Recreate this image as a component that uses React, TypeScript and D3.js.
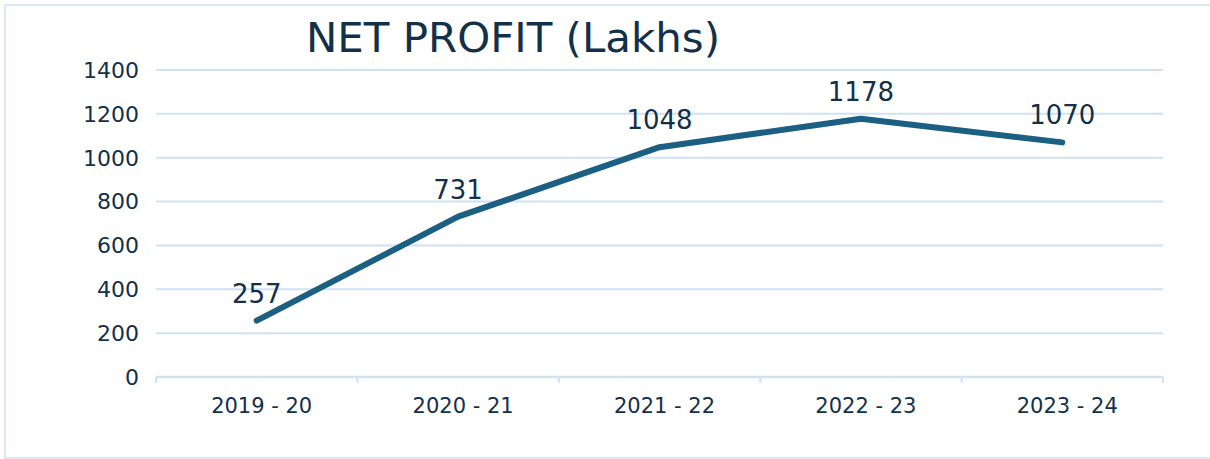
import React from "react";
import * as d3 from "d3";

const categories = ["2019 - 20", "2020 - 21", "2021 - 22", "2022 - 23", "2023 - 24"];
const values = [257, 731, 1048, 1178, 1070];
const yTicks = [0, 200, 400, 600, 800, 1000, 1200, 1400];
const title = "NET PROFIT (Lakhs)";

const W = 1210;
const H = 459;
const FONT = "'DejaVu Sans', sans-serif";
const TEXT = "#13304a";
const GRID = "#cfe2f3";
const LINE = "#1b5f82";

export default function App() {
  const x = d3.scaleBand<string>().domain(categories).range([156, 1163]).padding(0);
  const y = d3.scaleLinear().domain([0, 1400]).range([377, 70]);
  const cx = (c: string) => (x(c) as number) + x.bandwidth() / 2;
  const line = d3
    .line<number>()
    .x((_, i) => cx(categories[i]))
    .y((d) => y(d));
  const boundaries = categories.map((c) => x(c) as number).concat([1163]);

  return (
    <svg
      width={W}
      height={H}
      style={{ position: "absolute", left: 0, top: 0, background: "#fff" }}
      fontFamily={FONT}
    >
      <rect x={5} y={5} width={1260} height={453} fill="none" stroke={GRID} strokeWidth={1.5} />
      <text x={513} y={52} textAnchor="middle" fontSize={41} fill={TEXT} textLength={414} lengthAdjust="spacingAndGlyphs">
        {title}
      </text>
      {yTicks.map((t) => (
        <g key={t}>
          {t > 0 && <line x1={156} x2={1163} y1={y(t)} y2={y(t)} stroke={GRID} strokeWidth={2} />}
          <text x={139} y={y(t)} dy="0.36em" textAnchor="end" fontSize={22} fill={TEXT}>
            {t}
          </text>
        </g>
      ))}
      <line x1={156} x2={1163} y1={y(0)} y2={y(0)} stroke={GRID} strokeWidth={2.5} />
      {boundaries.map((b, i) => (
        <line key={i} x1={b} x2={b} y1={y(0)} y2={y(0) + 6} stroke={GRID} strokeWidth={2} />
      ))}
      {categories.map((c) => (
        <text key={c} x={cx(c) + 5} y={413} textAnchor="middle" fontSize={21} fill={TEXT}>
          {c}
        </text>
      ))}
      <path d={line(values) as string} fill="none" stroke={LINE} strokeWidth={6} strokeLinecap="round" strokeLinejoin="round" />
      {values.map((v, i) => (
        <text key={i} x={cx(categories[i])} y={y(v) - 18} textAnchor="middle" fontSize={26} fill={TEXT}>
          {v}
        </text>
      ))}
    </svg>
  );
}
